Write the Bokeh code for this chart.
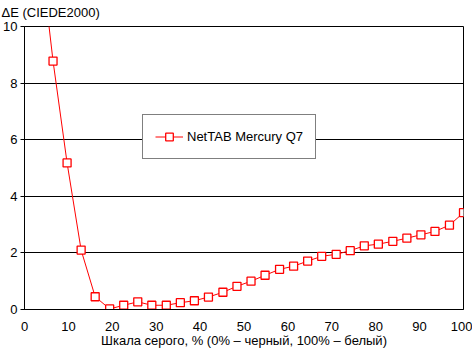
from bokeh.plotting import figure
from bokeh.models import Range1d, FixedTicker, Legend, LegendItem
from bokeh.embed import file_html
from bokeh.resources import INLINE

# data
gray_pct = [3.2, 6.5, 9.7, 12.9, 16.1, 19.4, 22.6, 25.8, 29.0, 32.3, 35.5, 38.7,
            41.9, 45.2, 48.4, 51.6, 54.8, 58.1, 61.3, 64.5, 67.7, 71.0, 74.2,
            77.4, 80.6, 83.9, 87.1, 90.3, 93.5, 96.8, 100.0]
delta_e = [13.2, 8.78, 5.18, 2.10, 0.45, 0.02, 0.15, 0.27, 0.15, 0.15, 0.24, 0.31,
           0.44, 0.61, 0.82, 1.00, 1.21, 1.42, 1.53, 1.71, 1.88, 1.95, 2.08,
           2.25, 2.31, 2.41, 2.52, 2.64, 2.76, 2.98, 3.42]
x_ticks = [0, 10, 20, 30, 40, 50, 60, 70, 80, 90, 100]
y_ticks = [0, 2, 4, 6, 8, 10]
series_name = "NetTAB Mercury Q7"
x_title = "Шкала серого, % (0% – черный, 100% – белый)"
y_title = "ΔE (CIEDE2000)"

FONT = "Liberation Sans"
FS = "13px"

p = figure(width=472, height=352, output_backend="svg", toolbar_location=None,
           x_range=Range1d(0, 100), y_range=Range1d(0, 10),
           min_border_left=23, min_border_right=9, min_border_top=26, min_border_bottom=43)
p.background_fill_color = "white"
p.border_fill_color = "white"
p.outline_line_color = "black"
p.outline_line_width = 1

p.title.text = y_title
p.title.align = "left"
p.title.vertical_align = "top"
p.title.offset = -23
p.title.standoff = 9
p.title.text_font = FONT
p.title.text_font_size = FS
p.title.text_font_style = "normal"
p.title.text_color = "black"

p.xgrid.visible = False
p.ygrid.grid_line_color = "black"
p.ygrid.grid_line_width = 1

p.xaxis.ticker = FixedTicker(ticks=x_ticks)
p.yaxis.ticker = FixedTicker(ticks=y_ticks)
for ax in (p.xaxis, p.yaxis):
    ax.axis_line_color = "black"
    ax.major_label_text_font = FONT
    ax.major_label_text_font_size = FS
    ax.major_label_text_color = "black"
    ax.minor_tick_line_color = None
    ax.major_tick_line_color = "black"
    ax.major_tick_in = 0
p.xaxis.major_tick_out = 0
p.xaxis.major_label_standoff = 12
p.yaxis.major_tick_out = 4
p.yaxis.major_label_standoff = 3

p.xaxis.axis_label = x_title
p.xaxis.axis_label_text_font = FONT
p.xaxis.axis_label_text_font_size = FS
p.xaxis.axis_label_text_font_style = "normal"
p.xaxis.axis_label_text_color = "black"
p.xaxis.axis_label_standoff = -1

r_line = p.line(gray_pct, delta_e, line_color="red", line_width=1)
r_pts = p.scatter(gray_pct, delta_e, marker="square", size=8, line_color="red",
                  line_width=1.3, fill_color="white")

legend = Legend(items=[LegendItem(label=series_name, renderers=[r_line, r_pts])],
                location=(118, 150))
legend.label_text_font = FONT
legend.label_text_font_size = FS
legend.label_text_color = "black"
legend.border_line_color = "black"
legend.border_line_width = 1
legend.background_fill_color = "white"
legend.background_fill_alpha = 1
legend.padding = 12
legend.margin = 0
legend.spacing = 0
legend.glyph_width = 28
legend.glyph_height = 19
legend.label_height = 19
legend.label_standoff = 4
p.add_layout(legend, "center")

open("out.html", "w").write(file_html(p, INLINE))
